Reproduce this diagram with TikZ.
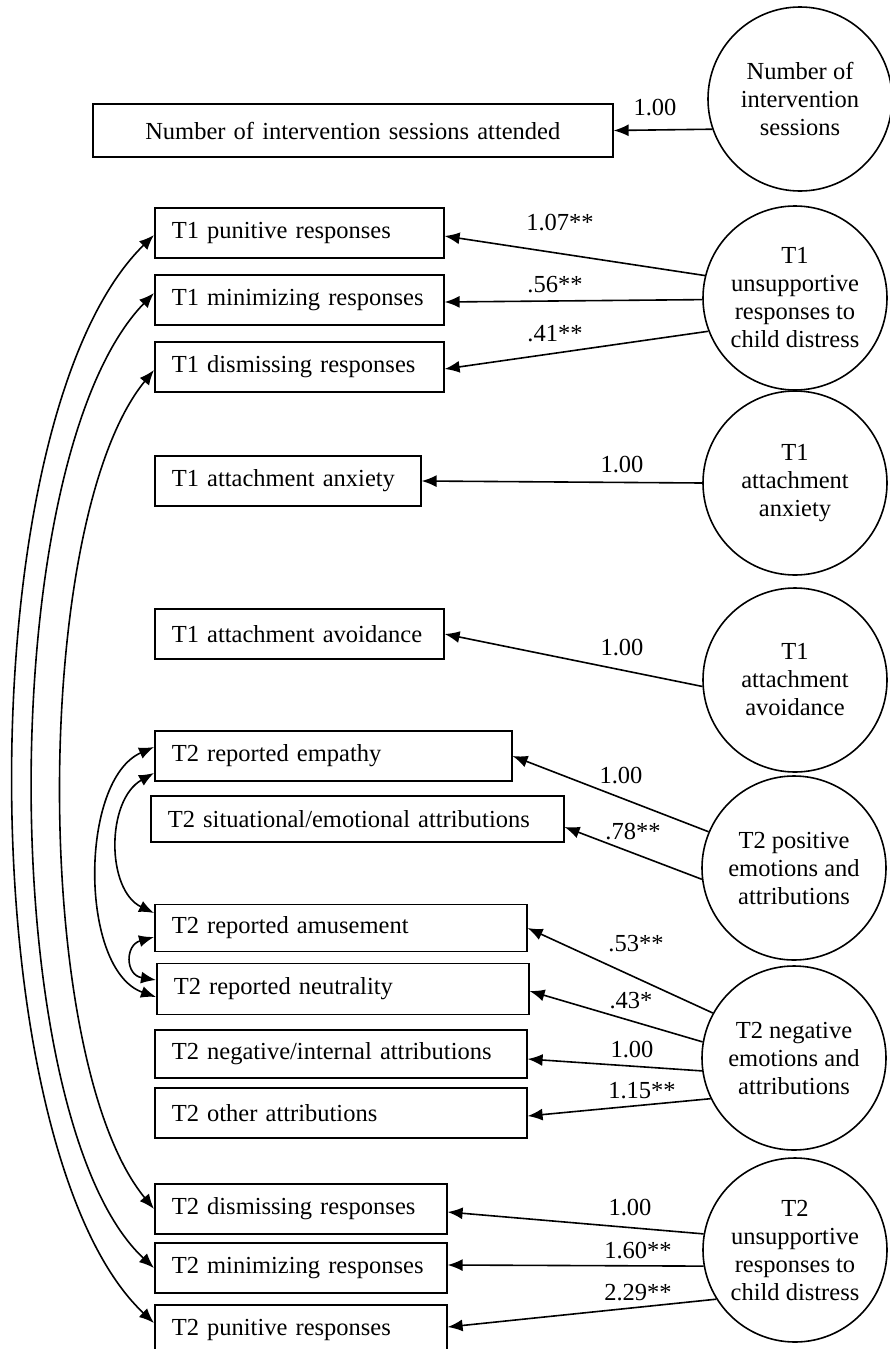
\documentclass[tikz,border=0pt]{standalone}
\usepackage{fontspec}
\setmainfont{Liberation Serif}
\usetikzlibrary{arrows.meta,calc}
\newcommand{\fs}{\fontsize{24.5}{28}\selectfont}
\begin{document}
\begin{tikzpicture}[x=1pt,y=-1pt,
  obs/.style={draw, line width=1.6pt, anchor=west, minimum height=50pt, inner xsep=17pt, inner ysep=0pt, align=left, font=\fs},
  lat/.style={draw, circle, line width=1.6pt, minimum size=184pt, inner sep=0pt, align=center, font=\fs},
  arr/.style={line width=1.6pt, -{Latex[length=15pt,width=12pt]}},
  cov/.style={line width=1.6pt, {Latex[length=15pt,width=12pt]}-{Latex[length=15pt,width=12pt]}},
  lbl/.style={font=\fs, inner sep=0pt}]
\useasboundingbox (0,0) rectangle (890,1349);
% observed boxes
\node[obs, minimum height=53pt, text width=486pt, align=center] (b0) at (92,130.5) {Number of intervention sessions attended};
\node[obs, text width=255pt] (b1) at (154,233) {T1 punitive responses};
\node[obs, text width=255pt] (b2) at (154,300) {T1 minimizing responses};
\node[obs, text width=255pt] (b3) at (154,367) {T1 dismissing responses};
\node[obs, text width=232pt] (b4) at (154,481) {T1 attachment anxiety};
\node[obs, text width=255pt] (b5) at (154,634) {T1 attachment avoidance};
\node[obs, text width=323pt] (b6) at (154,756) {T2 reported empathy};
\node[obs, text width=379pt, minimum height=46pt] (b7) at (150,819) {T2 situational/emotional attributions};
\node[obs, text width=338pt, minimum height=47pt] (b8) at (154,928) {T2 reported amusement};
\node[obs, text width=338pt, minimum height=51pt] (b9) at (156,989) {T2 reported neutrality};
\node[obs, text width=338pt, minimum height=48pt] (b10) at (154,1054) {T2 negative/internal attributions};
\node[obs, text width=338pt] (b11) at (154,1113) {T2 other attributions};
\node[obs, text width=258pt] (b12) at (154,1209) {T2 dismissing responses};
\node[obs, text width=258pt] (b13) at (154,1268) {T2 minimizing responses};
\node[obs, text width=258pt] (b14) at (154,1330) {T2 punitive responses};
% latent circles
\node[lat] (c0) at (800,99) {Number of\\intervention\\sessions};
\node[lat] (c1) at (795,298) {T1\\unsupportive\\responses to\\child distress};
\node[lat] (c2) at (795,483) {T1\\attachment\\anxiety};
\node[lat] (c3) at (795,680) {T1\\attachment\\avoidance};
\node[lat] (c4) at (794,868) {T2 positive\\emotions and\\attributions};
\node[lat] (c5) at (794,1058) {T2 negative\\emotions and\\attributions};
\node[lat] (c6) at (795,1250) {T2\\unsupportive\\responses to\\child distress};
% loadings
\draw[arr] (c0.199) -- (b0.east);
\draw[arr] (c1.166) -- ([yshift=-3pt]b1.east);
\draw[arr] (c1.181) -- ([yshift=-2pt]b2.east);
\draw[arr] (c1.201) -- ([yshift=-2pt]b3.east);
\draw[arr] (c2.west) -- (b4.east);
\draw[arr] (c3.184) -- (b5.east);
\draw[arr] (c4.157) -- (b6.east);
\draw[arr] (c4.187) -- ([yshift=-8pt]b7.east);
\draw[arr] (c5.151) -- (b8.east);
\draw[arr] (c5.170) -- ([yshift=-2pt]b9.east);
\draw[arr] (c5.188) -- ([yshift=-5pt]b10.east);
\draw[arr] (c5.206) -- ([yshift=-3pt]b11.east);
\draw[arr] (c6.170) -- ([yshift=-3pt]b12.east);
\draw[arr] (c6.190) -- ([yshift=3pt]b13.east);
\draw[arr] (c6.212) -- ([yshift=3pt]b14.east);
% labels
\node[lbl] (l0) at (655,108) {1.00};
\node[lbl] (l1) at (560,223) {1.07**};
\node[lbl] (l2) at (555,285) {.56**};
\node[lbl] (l3) at (555,334) {.41**};
\node[lbl] (l4) at (622,465) {1.00};
\node[lbl] (l5) at (622,648) {1.00};
\node[lbl] (l6) at (621,776) {1.00};
\node[lbl] (l7) at (633,832) {.78**};
\node[lbl] (l8) at (636,944) {.53**};
\node[lbl] (l9) at (631,1001) {.43*};
\node[lbl] (l10) at (632,1050) {1.00};
\node[lbl] (l11) at (642,1091) {1.15**};
\node[lbl] (l12) at (630,1208) {1.00};
\node[lbl] (l13) at (638,1251) {1.60**};
\node[lbl] (l14) at (638,1293) {2.29**};
% covariances
\draw[cov] ([yshift=-2pt]b1.west) .. controls (-35,420) and (-30,1150) .. ([yshift=7pt]b14.west);
\draw[cov] ([yshift=7pt]b2.west) .. controls (-8,460) and (-5,1120) .. (b13.west);
\draw[cov] ([yshift=-3pt]b3.west) .. controls (31,520) and (31,1060) .. (b12.west);
\draw[cov] ([yshift=9pt]b6.west) .. controls (79,780) and (79,970) .. ([yshift=-8pt]b9.west);
\draw[cov] ([yshift=-17pt]b6.west) .. controls (106,800) and (106,890) .. ([yshift=15pt]b8.west);
\draw[cov] ([yshift=-9pt]b8.west) .. controls (125,945) and (125,975) .. ([yshift=9pt]b9.west);
\end{tikzpicture}
\end{document}
